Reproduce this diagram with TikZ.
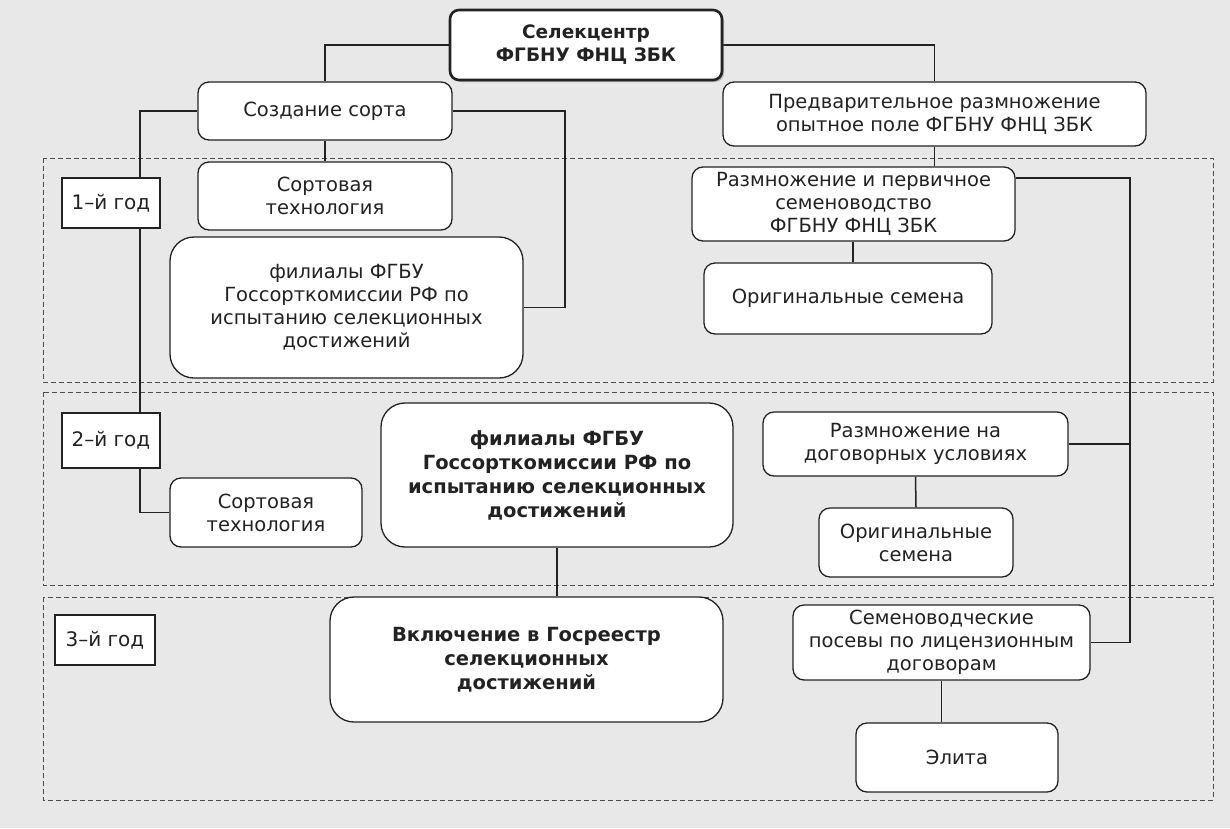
\documentclass[tikz,border=0pt]{standalone}
\usepackage{fontspec}
\setmainfont{DejaVu Sans}
\usetikzlibrary{calc,shadows}
\pgfdeclarelayer{bg}
\pgfsetlayers{bg,main}
\definecolor{pagebg}{HTML}{E8E8E8}
\definecolor{ink}{HTML}{222222}
\tikzset{
  box/.style={draw=ink, fill=white, rounded corners=11pt, line width=1.3pt, align=center, inner sep=0pt,
    font=\fontsize{19.5}{23}\selectfont, text=ink},
  bigbox/.style={box, rounded corners=24pt},
  bbold/.style={font=\fontsize{19.5}{24}\selectfont\bfseries},
  yearbox/.style={draw=ink, fill=white, line width=1.2pt, inner sep=0pt, font=\fontsize{20}{22}\selectfont, text=ink},
  region/.style={draw=ink!80, dash pattern=on 5pt off 3pt, line width=1pt},
  conn/.style={draw=ink, line width=1.5pt},
}
\begin{document}
\begin{tikzpicture}[x=1pt,y=-1pt]
\useasboundingbox (0,0) rectangle (1230,828);
% nodes
\node[box, drop shadow={shadow xshift=2pt, shadow yshift=-2pt, opacity=0.5}, line width=2.6pt, rounded corners=9pt,
  minimum width=272pt, minimum height=70pt, font=\fontsize{18.5}{23}\selectfont\bfseries] (top) at (586,45) {Селекцентр\\ФГБНУ ФНЦ ЗБК};
\node[box, minimum width=254pt, minimum height=58pt] (creat) at (325,111) {Создание сорта};
\node[box, minimum width=423pt, minimum height=64pt] (pred) at (934.5,114) {Предварительное размножение\\опытное поле ФГБНУ ФНЦ ЗБК};
\node[yearbox, minimum width=98pt, minimum height=50pt] (y1) at (111,203) {1–й год};
\node[box, minimum width=254pt, minimum height=68pt] (st1) at (325,196) {Сортовая\\технология};
\node[bigbox, minimum width=353pt, minimum height=141pt] (fil1) at (346.5,307.5) {филиалы ФГБУ\\Госсорткомиссии РФ по\\испытанию селекционных\\достижений};
\node[box, minimum width=323pt, minimum height=74pt] (razm1) at (853.5,204) {Размножение и первичное\\семеноводство\\ФГБНУ ФНЦ ЗБК};
\node[box, minimum width=288pt, minimum height=71pt] (orig1) at (848,298.5) {Оригинальные семена};
\node[yearbox, minimum width=98pt, minimum height=55pt] (y2) at (111,440.5) {2–й год};
\node[box, minimum width=192pt, minimum height=69pt] (st2) at (266,512.5) {Сортовая\\технология};
\node[bigbox, bbold, minimum width=352pt, minimum height=144pt] (fil2) at (557,475) {филиалы ФГБУ\\Госсорткомиссии РФ по\\испытанию селекционных\\достижений};
\node[box, minimum width=305pt, minimum height=64pt] (razmd) at (915.5,444) {Размножение на\\договорных условиях};
\node[box, minimum width=194pt, minimum height=69pt] (orig2) at (916,542.5) {Оригинальные\\семена};
\node[yearbox, minimum width=100pt, minimum height=50pt] (y3) at (105,640) {3–й год};
\node[bigbox, bbold, minimum width=393pt, minimum height=125pt] (vkl) at (526.5,659.5) {Включение в Госреестр\\селекционных\\достижений};
\node[box, minimum width=297pt, minimum height=75pt] (semp) at (941.5,642.5) {Семеноводческие\\посевы по лицензионным\\договорам};
\node[box, minimum width=202pt, minimum height=69pt] (elita) at (957,757.5) {Элита};
% connectors
\coordinate (lv) at (140,0);
\coordinate (r1) at (565,0);
\coordinate (rv) at (1130,0);
\begin{pgfonlayer}{bg}
\fill[pagebg] (0,0) rectangle (1230,828);
\draw[region] (43,158) rectangle (1213,382);
\draw[region] (43,392) rectangle (1213,585);
\draw[region] (43,597) rectangle (1213,800);
\draw[conn] (top.west) -| (creat.north);
\draw[conn] (top.east) -| (pred.north);
\draw[conn] (creat.south) -- (st1.north);
\draw[conn] (creat.west) -- (creat.west -| lv) |- (st2.west);
\draw[conn] (creat.east) -- (creat.east -| r1) |- (fil1.east);
\draw[conn] (pred.south) -- (pred.south |- razm1.north);
\draw[conn] (razm1.south -| orig1.north) ++(5,0) coordinate (rs) -- (rs |- orig1.north);
\draw[conn] ([yshift=26pt]razm1.east) -| (semp.east -| rv) -- (semp.east);
\draw[conn] (razmd.east) -- (razmd.east -| rv);
\draw[conn] (razmd.south) -- (orig2.north);
\draw[conn] (fil2.south) -- (fil2.south |- vkl.north);
\draw[conn] (semp.south) -- (semp.south |- elita.north);
\end{pgfonlayer}
\end{tikzpicture}
\end{document}
